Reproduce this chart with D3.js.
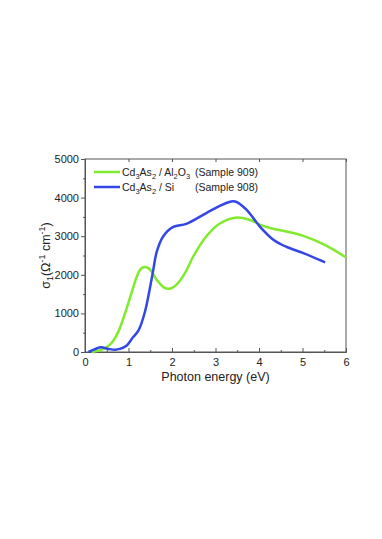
<!DOCTYPE html>
<html>
<head>
<meta charset="utf-8">
<script src="https://cdn.jsdelivr.net/npm/d3@7"></script>
<style>
  body { margin: 0; background: #fff; }
  svg text { font-family: "Liberation Sans", Arial, sans-serif; fill: #222; }
</style>
</head>
<body>
<div id="chart"></div>
<script>
// photon energy (eV) and sigma_1 values
var greenE = [0.15, 0.3, 0.46, 0.61, 0.77, 0.92, 1.07, 1.19, 1.28, 1.38, 1.47, 1.55, 1.66, 1.83, 1.95, 2.1, 2.3, 2.5, 2.79, 3.1, 3.45, 3.8, 4.02, 4.3, 4.6, 5.02, 5.5, 6.0];
var greenS = [0, 30, 100, 233, 535, 1000, 1530, 1950, 2150, 2200, 2160, 2050, 1850, 1660, 1640, 1740, 2050, 2500, 3000, 3330, 3480, 3420, 3300, 3200, 3130, 3010, 2780, 2450];

var blueE = [0.08, 0.2, 0.36, 0.54, 0.69, 0.8, 0.96, 1.09, 1.23, 1.38, 1.55, 1.65, 1.8, 2.03, 2.33, 2.79, 3.25, 3.45, 3.71, 4.02, 4.33, 4.64, 5.02, 5.52];
var blueS = [0, 60, 120, 80, 60, 80, 170, 360, 560, 1050, 2000, 2600, 3000, 3240, 3320, 3600, 3860, 3900, 3690, 3250, 2910, 2720, 2560, 2320];

var xTicks = [0, 1, 2, 3, 4, 5, 6];
var yTicks = [0, 1000, 2000, 3000, 4000, 5000];

var svg = d3.select("#chart").append("svg")
    .attr("width", 382)
    .attr("height", 539);

var mLeft = 85, mRight = 346, mTop = 159, mBottom = 352;

var x = d3.scaleLinear().domain([0, 6]).range([mLeft, mRight]);
var y = d3.scaleLinear().domain([0, 5000]).range([mBottom, mTop]);

// frame
svg.append("rect")
    .attr("x", mLeft).attr("y", mTop)
    .attr("width", mRight - mLeft).attr("height", mBottom - mTop)
    .attr("fill", "none").attr("stroke", "#555").attr("stroke-width", 1);

// bottom axis
var xAxis = svg.append("g")
    .attr("transform", "translate(0," + mBottom + ")")
    .call(d3.axisBottom(x).tickValues(xTicks).tickSize(-4).tickPadding(4).tickFormat(d3.format("d")));
xAxis.select(".domain").attr("stroke", "#555");
xAxis.selectAll("text").attr("font-size", 11).attr("dy", "0.95em");
svg.append("g")
    .attr("transform", "translate(0," + mBottom + ")")
    .call(d3.axisBottom(x).tickValues([0.5, 1.5, 2.5, 3.5, 4.5, 5.5]).tickSize(-2).tickFormat(""))
    .select(".domain").remove();

// top minor ticks
svg.append("g")
    .attr("transform", "translate(0," + mTop + ")")
    .call(d3.axisTop(x).tickValues(xTicks).tickSize(-3).tickFormat(""))
    .select(".domain").remove();

// left axis
var yAxis = svg.append("g")
    .attr("transform", "translate(" + mLeft + ",0)")
    .call(d3.axisLeft(y).tickValues(yTicks).tickSize(4).tickPadding(2).tickFormat(d3.format("d")));
yAxis.select(".domain").attr("stroke", "#555");
yAxis.selectAll("text").attr("font-size", 11);
svg.append("g")
    .attr("transform", "translate(" + mLeft + ",0)")
    .call(d3.axisLeft(y).tickValues([500, 1500, 2500, 3500, 4500]).tickSize(2).tickFormat(""))
    .select(".domain").remove();

svg.selectAll(".tick line").attr("stroke", "#555");

var line = d3.line()
    .x(function(d) { return x(d[0]); })
    .y(function(d) { return y(d[1]); })
    .curve(d3.curveCatmullRom.alpha(0.5));

svg.append("path")
    .datum(d3.zip(greenE, greenS))
    .attr("d", line)
    .attr("fill", "none")
    .attr("stroke", "#80EA2C")
    .attr("stroke-width", 2.5);

svg.append("path")
    .datum(d3.zip(blueE, blueS))
    .attr("d", line)
    .attr("fill", "none")
    .attr("stroke", "#3347E6")
    .attr("stroke-width", 2.5);

// legend
var legend = [
    {color: "#80EA2C", y: 172, main: ["Cd", "3", "As", "2", " / Al", "2", "O", "3"], sample: "(Sample 909)"},
    {color: "#3347E6", y: 187, main: ["Cd", "3", "As", "2", " / Si"], sample: "(Sample 908)"}
];
legend.forEach(function(l) {
    svg.append("line")
        .attr("x1", 94).attr("x2", 120)
        .attr("y1", l.y).attr("y2", l.y)
        .attr("stroke", l.color).attr("stroke-width", 2.5);
    var t = svg.append("text")
        .attr("x", 122).attr("y", l.y + 4)
        .attr("font-size", 10.5);
    l.main.forEach(function(s, i) {
        var sub = i % 2 == 1;
        t.append("tspan")
            .attr("font-size", sub ? 7.5 : 10.5)
            .attr("dy", sub ? 3 : (i == 0 ? 0 : -3))
            .text(s);
    });
    svg.append("text")
        .attr("x", 195).attr("y", l.y + 4)
        .attr("font-size", 10.5)
        .text(l.sample);
});

// axis titles
svg.append("text")
    .attr("x", (mLeft + mRight) / 2)
    .attr("y", 381)
    .attr("text-anchor", "middle")
    .attr("font-size", 12.5)
    .text("Photon energy (eV)");

var yl = svg.append("text")
    .attr("transform", "translate(50," + ((mTop + mBottom) / 2) + ") rotate(-90)")
    .attr("text-anchor", "middle")
    .attr("font-size", 12.5);
yl.append("tspan").text("σ");
yl.append("tspan").attr("font-size", 9).attr("dy", 3).text("1");
yl.append("tspan").attr("dy", -3).text("(Ω");
yl.append("tspan").attr("font-size", 9).attr("dy", -5).text("-1");
yl.append("tspan").attr("dy", 5).text(" cm");
yl.append("tspan").attr("font-size", 9).attr("dy", -5).text("-1");
yl.append("tspan").attr("dy", 5).text(")");
</script>
</body>
</html>
